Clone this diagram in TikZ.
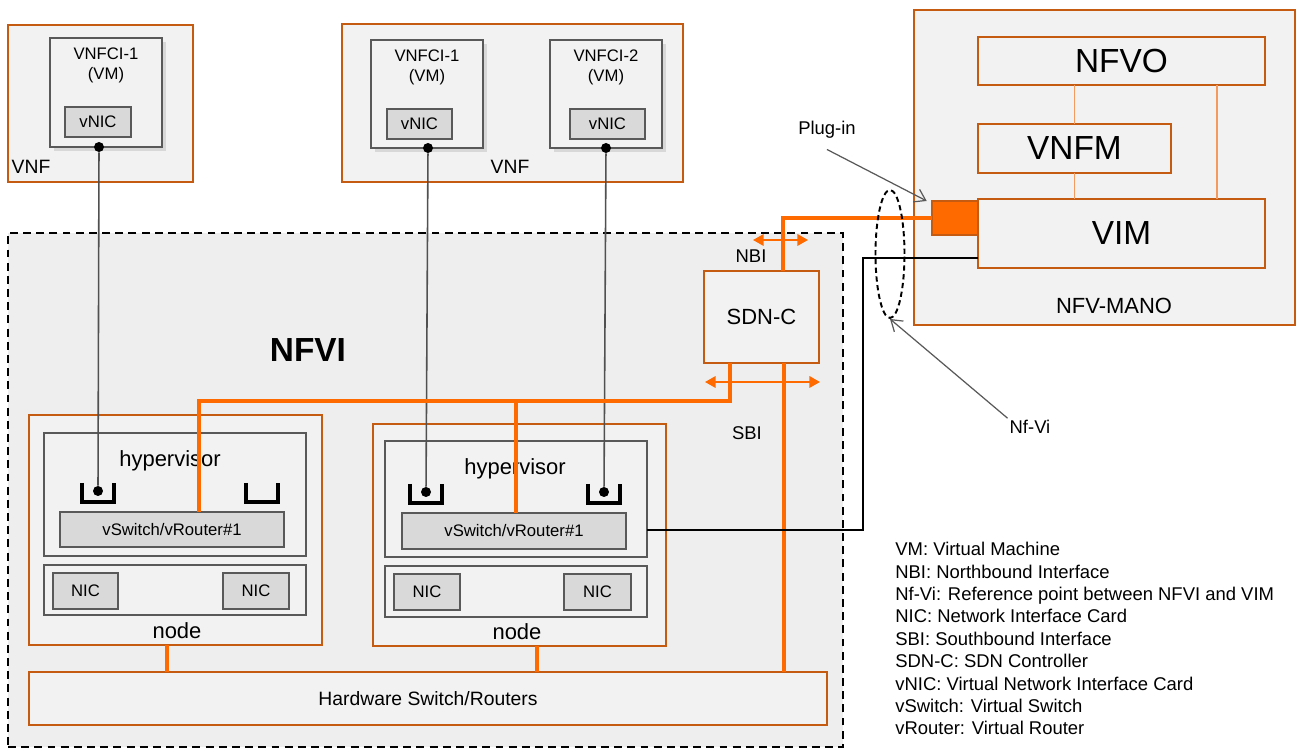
\documentclass[tikz,border=0pt]{standalone}
\usepackage{fontspec}
\setmainfont{Liberation Sans}
\usetikzlibrary{arrows.meta,shapes.geometric,shadows}
\definecolor{mgmtorange}{HTML}{C55A11}
\definecolor{linkorange}{HTML}{FF6A00}
\definecolor{paleorange}{HTML}{F39A5C}
\definecolor{boxfill}{HTML}{F2F2F2}
\definecolor{nfvifill}{HTML}{EEEEEE}
\definecolor{chipfill}{HTML}{D9D9D9}
\definecolor{edgegray}{HTML}{595959}
\tikzset{
  orbox/.style={draw=mgmtorange,line width=1.3pt,fill=boxfill,inner sep=0pt,outer sep=0pt},
  nfviarea/.style={draw=black,line width=1.1pt,dash pattern=on 4.5pt off 3pt,fill=nfvifill,inner sep=0pt,outer sep=0pt},
  vmbox/.style={draw=edgegray,line width=1pt,fill=boxfill,inner sep=0pt,outer sep=0pt,
    drop shadow={shadow xshift=2pt,shadow yshift=-2pt,fill=black!25}},
  graybox/.style={draw=edgegray,line width=0.7pt,fill=boxfill,inner sep=0pt,outer sep=0pt},
  chip/.style={draw=edgegray,line width=0.7pt,fill=chipfill,inner sep=0pt,outer sep=0pt,font=\fontsize{9.5}{11.4}\selectfont},
  plugbox/.style={draw=mgmtorange,line width=1.3pt,fill=linkorange,inner sep=0pt,outer sep=0pt},
  vmlabel/.style={align=center,inner sep=0pt,font=\fontsize{9.5}{11.4}\selectfont},
  midfont/.style={inner sep=1pt,font=\fontsize{11}{13}\selectfont},
  notefont/.style={inner sep=1pt,font=\fontsize{10.5}{12.75}\selectfont},
  bigfont/.style={inner sep=1pt,font=\fontsize{12.5}{15}\selectfont},
  hugefont/.style={font=\fontsize{19}{23}\selectfont},
  titlefont/.style={inner sep=1pt,font=\fontsize{19}{23}\selectfont\bfseries},
  dot/.style={circle,fill=black,inner sep=0pt,minimum size=0.2cm},
  sock/.style={draw=black,line width=2pt,line cap=butt},
  port/.style={draw=edgegray!90!black,line width=0.9pt},
  link/.style={draw=linkorange,line width=2.1pt},
  biarrow/.style={draw=linkorange,line width=1.1pt,{Triangle[length=6pt,width=6.5pt]}-{Triangle[length=6pt,width=6.5pt]}},
  mgmtlink/.style={draw=paleorange,line width=0.7pt},
  nfviline/.style={draw=black,line width=1.2pt},
  ring/.style={draw=black,ellipse,line width=1.1pt,dash pattern=on 3pt off 2pt,minimum width=0.58cm,minimum height=2.56cm,inner sep=0pt},
  pointer/.style={draw=edgegray,line width=0.7pt,-{Straight Barb[length=6pt,width=8pt]}}
}
% box from its two corners (pixel grid)
\newcommand{\pbox}[7]{%
  \node[#2,minimum width={(#5-#3)*0.02cm},minimum height={(#6-#4)*0.02cm}] (#1) at ({(#3+#5)/2},{(#4+#6)/2}) {#7}%
}
\newcommand{\vm}[6]{%
  \pbox{#1}{vmbox}{#2}{#3}{#4}{#5}{};%
  \node[vmlabel] (#1-txt) at ({(#2+#4)/2},{#3+27}) {#6}%
}
\newcommand{\socket}[3]{%
  \draw[sock] (#2,#3) -- ++(0,19) -- ++(32,0) -- ++(0,-19);%
  \coordinate (#1) at ({#2+16},{#3+8})%
}
\begin{document}
\begin{tikzpicture}[x=0.02cm,y=-0.02cm]
  \useasboundingbox (0,0) rectangle (1296,749);
  % NFVI
  \pbox{nfvi}{nfviarea}{8}{233}{843}{747}{};
  \node[titlefont] (nfvi-txt) at (308,350) {NFVI};
  % VNFs
  \pbox{vnf1}{orbox}{8}{25}{193}{182}{};
  \node[midfont] (vnf1-txt) at (31,167) {VNF};
  \vm{vm11}{50}{38}{162}{147}{VNFCI-1\\(VM)};
  \pbox{vnic11}{chip}{65}{107}{131}{137}{vNIC};
  \node[dot] (d11) at (99,147) {};
  \pbox{vnf2}{orbox}{342}{24}{683}{182}{};
  \node[midfont] (vnf2-txt) at (510,167) {VNF};
  \vm{vm21}{371}{40}{483}{148}{VNFCI-1\\(VM)};
  \pbox{vnic21}{chip}{387}{109}{452}{139}{vNIC};
  \node[dot] (d21) at (428,148) {};
  \vm{vm22}{550}{40}{662}{148}{VNFCI-2\\(VM)};
  \pbox{vnic22}{chip}{570}{109}{645}{139}{vNIC};
  \node[dot] (d22) at (606,148) {};
  % NFV-MANO
  \pbox{mano}{orbox}{914}{10}{1295}{325}{};
  \node[bigfont] (mano-txt) at (1114,306) {NFV-MANO};
  \pbox{nfvo}{orbox,hugefont}{978}{37}{1265}{85}{NFVO};
  \pbox{vnfm}{orbox,hugefont}{978}{124}{1171}{173}{VNFM};
  \pbox{vim}{orbox,hugefont}{978}{199}{1265}{268}{VIM};
  \pbox{plug}{plugbox}{932}{201}{978}{235}{};
  % SDN controller
  \pbox{sdn}{orbox,bigfont}{704}{271}{819}{363}{SDN-C};
  \node[notefont] (nbi-txt) at (751,256) {NBI};
  \node[notefont] (sbi-txt) at (747,433) {SBI};
  % compute nodes
  \pbox{node1}{orbox}{29}{415}{322}{645}{};
  \node[bigfont] (node1-txt) at (177,631) {node};
  \pbox{hv1}{graybox}{44}{433}{306}{556}{};
  \node[bigfont] (hv1-txt) at (170,461) {hypervisor};
  \pbox{vs1}{chip}{60}{512}{284}{547}{vSwitch/vRouter\#1};
  \pbox{nics1}{graybox}{44}{565}{306}{615}{};
  \pbox{nic1a}{chip}{53}{573}{118}{609}{NIC};
  \pbox{nic1b}{chip}{223}{573}{289}{609}{NIC};
  \socket{s11}{82}{483};
  \socket{s12}{246}{483};
  \node[dot] (p11) at (s11) {};
  \pbox{node2}{orbox}{373}{424}{666}{646}{};
  \node[bigfont] (node2-txt) at (517,632) {node};
  \pbox{hv2}{graybox}{385}{441}{647}{557}{};
  \node[bigfont] (hv2-txt) at (515,469) {hypervisor};
  \pbox{vs2}{chip}{402}{513}{626}{549}{vSwitch/vRouter\#1};
  \pbox{nics2}{graybox}{385}{566}{647}{617}{};
  \pbox{nic2a}{chip}{394}{574}{460}{610}{NIC};
  \pbox{nic2b}{chip}{564}{574}{631}{610}{NIC};
  \socket{s21}{410}{484};
  \socket{s22}{588}{484};
  \node[dot] (p21) at (s21) {};
  \node[dot] (p22) at (s22) {};
  \pbox{hw}{orbox,midfont}{29}{672}{827}{725}{Hardware Switch/Routers};
  % vNIC to hypervisor ports
  \draw[port] (d11) -- (p11);
  \draw[port] (d21) -- (p21);
  \draw[port] (d22) -- (p22);
  % SDN links
  \coordinate (nbi-top) at (783,218);
  \draw[link] (plug.west) -- (nbi-top) -- (nbi-top |- sdn.north);
  \coordinate (nbi-l) at (753,240);
  \coordinate (nbi-r) at (808,240);
  \draw[biarrow] (nbi-l) -- (nbi-r);
  \coordinate (sbi-out) at (730,401);
  \coordinate (tap1) at (199,401);
  \coordinate (tap2) at (516,401);
  \coordinate (hwtap) at (784,401);
  \draw[link] (sbi-out |- sdn.south) -- (sbi-out) -- (tap1) -- (tap1 |- vs1.north);
  \draw[link] (tap2) -- (tap2 |- vs2.north);
  \draw[link] (hwtap |- sdn.south) -- (hwtap |- hw.north);
  \coordinate (sbi-l) at (705,382);
  \coordinate (sbi-r) at (820,382);
  \draw[biarrow] (sbi-l) -- (sbi-r);
  \coordinate (n1tap) at (167,660);
  \coordinate (n2tap) at (537,660);
  \draw[link] (n1tap |- node1.south) -- (n1tap |- hw.north);
  \draw[link] (n2tap |- node2.south) -- (n2tap |- hw.north);
  % Nf-Vi
  \coordinate (nfvi-bend) at (863,258);
  \coordinate (nfvi-low) at (863,530);
  \draw[nfviline] (nfvi-bend -| vim.west) -- (nfvi-bend) -- (nfvi-low) -- (nfvi-low -| hv2.east);
  % MANO internals
  \draw[mgmtlink] (vnfm.north) -- (vnfm.north |- nfvo.south);
  \draw[mgmtlink] (vnfm.south) -- (vnfm.south |- vim.north);
  \coordinate (or-vi) at (1217,100);
  \draw[mgmtlink] (or-vi |- nfvo.south) -- (or-vi |- vim.north);
  % reference point and callouts
  \node[ring] (ring) at (890,254) {};
  \node[notefont] (plug-txt) at (827,130) {Plug-in};
  \draw[pointer] ([yshift=-5pt]plug-txt.south) -- ([xshift=-3pt]plug.north west);
  \node[notefont] (nfvi-ref) at (1030,427) {Nf-Vi};
  \draw[pointer] (nfvi-ref.north west) -- (ring.south);
  % legend
  \node[notefont,align=left,anchor=north west,inner sep=0pt] (legend) at (895,542) {%
    VM: Virtual Machine\\
    NBI: Northbound Interface\\
    Nf-Vi: Reference point between NFVI and VIM\\
    NIC: Network Interface Card\\
    SBI: Southbound Interface\\
    SDN-C: SDN Controller\\
    vNIC: Virtual Network Interface Card\\
    vSwitch: Virtual Switch\\
    vRouter: Virtual Router};
\end{tikzpicture}
\end{document}
